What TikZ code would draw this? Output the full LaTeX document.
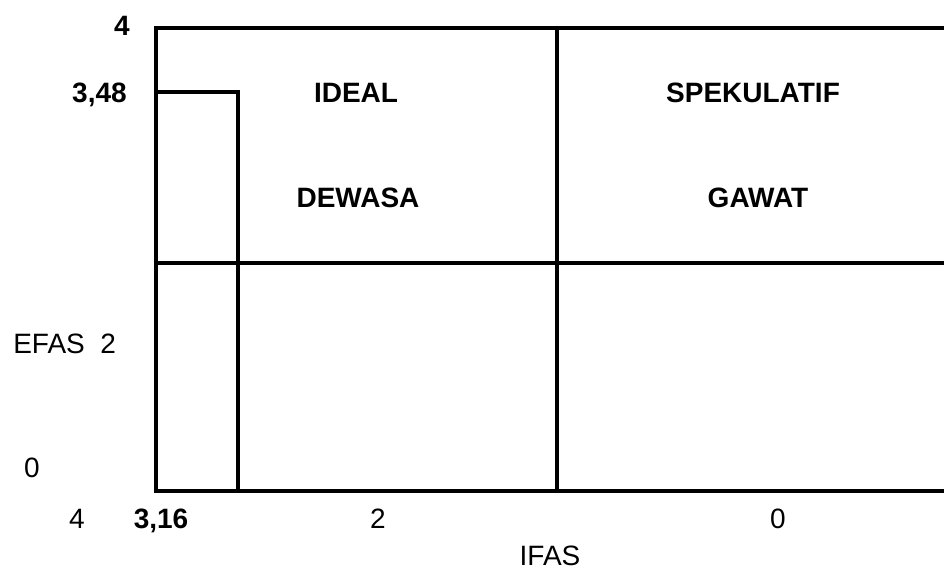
\documentclass[tikz,border=0pt]{standalone}
\usepackage{fontspec}
\setmainfont{Liberation Sans}
\usetikzlibrary{positioning}
\tikzset{
  lbl/.style={font=\fontsize{21}{25}\selectfont, inner sep=0pt, anchor=base},
  blbl/.style={lbl, font=\fontsize{21}{25}\selectfont\bfseries},
  gridline/.style={line width=2.4pt}
}

\begin{document}
\begin{tikzpicture}[x=0.75pt, y=-0.75pt]
  \useasboundingbox (0,0) rectangle (944,569);

  % quadrant frame, open to the right
  \draw[gridline] (944,28) -- (156,28) -- (156,491) -- (944,491);
  \draw[gridline] (557,28) -- (557,491);
  \draw[gridline] (156,263) -- (944,263);
  % position box
  \draw[gridline] (156,92) -- (238,92) -- (238,491);

  % quadrant names
  \node[blbl] (ideal) at (356,102) {IDEAL};
  \node[blbl] (spek) at (753,102) {SPEKULATIF};
  \node[blbl] (dewasa) at (358,207) {DEWASA};
  \node[blbl] (gawat) at (758,207) {GAWAT};

  % EFAS axis
  \node[blbl] (ytop) at (122,35) {4};
  \node[blbl, anchor=base east] (yval) at (127,102) {3,48};
  \node[lbl, anchor=base west] (efas) at (13,353) {EFAS\ \ 2};
  \node[lbl] (ybot) at (32,477) {0};

  % IFAS axis
  \node[lbl] (xleft) at (77,528) {4};
  \node[blbl] (xval) at (161,528) {3,16};
  \node[lbl] (xmid) at (378,528) {2};
  \node[lbl] (xright) at (778,528) {0};
  \node[lbl] (ifas) at (550,565) {IFAS};
\end{tikzpicture}
\end{document}
